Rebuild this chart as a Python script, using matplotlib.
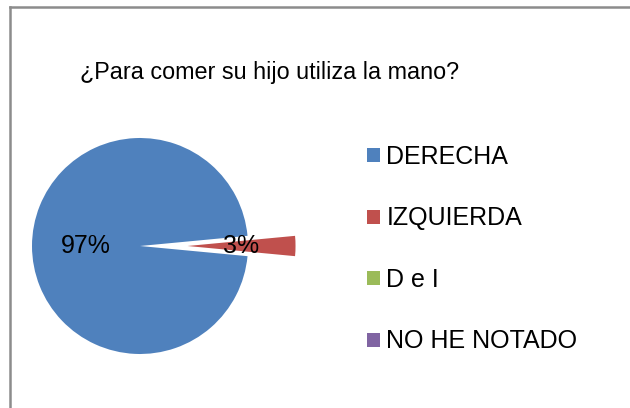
import matplotlib
matplotlib.use("Agg")
import matplotlib.pyplot as plt
from matplotlib.patches import Patch
from matplotlib.lines import Line2D

plt.rcParams['font.family'] = ['Liberation Sans', 'DejaVu Sans']

title = "¿Para comer su hijo utiliza la mano?"
categories = ["DERECHA", "IZQUIERDA", "D e I", "NO HE NOTADO"]
values = [97, 3, 0, 0]
colors = ["#4F81BD", "#C0504D", "#9BBB59", "#8064A2"]
explode = [0, 0.44, 0, 0]

W, H = 630, 408
fig = plt.figure(figsize=(W / 100, H / 100), dpi=100)

# chart frame (only left and top edges are visible in the crop)
fig.add_artist(Line2D([10 / W, 10 / W], [0, 1 - 6.5 / H], color="#8c8c8c", lw=1.8))
fig.add_artist(Line2D([10 / W, 1], [1 - 6.5 / H, 1 - 6.5 / H], color="#8c8c8c", lw=1.8))

# pie axes: centre at (140, 246) px, radius 108 px
R = 108
cx, cy = 140, 246
x0, x1, y0, y1 = -1.1, 1.7, -1.1, 1.1
ax = fig.add_axes([(cx + x0 * R) / W, (H - cy + y0 * R) / H,
                   (x1 - x0) * R / W, (y1 - y0) * R / H])

wedges, texts, autotexts = ax.pie(
    values, colors=colors, explode=explode, startangle=5.4,
    counterclock=True, pctdistance=0.5,
    autopct=lambda p: f"{p:.0f}%" if p > 0.5 else "",
    textprops=dict(fontsize=18, color="black"),
    wedgeprops=dict(linewidth=0))
ax.set_xlim(x0, x1)
ax.set_ylim(y0, y1)
ax.set_aspect("auto")

fig.text(270 / W, 1 - 72 / H, title, fontsize=16.8, ha="center", va="center")

handles = [Patch(facecolor=c, edgecolor="none") for c in colors]
fig.legend(handles, categories, loc="upper left",
           bbox_to_anchor=(367 / W, 1 - 145 / H), frameon=False,
           fontsize=18, handlelength=0.5, handleheight=0.5,
           handletextpad=0.28, labelspacing=1.5, borderpad=0,
           borderaxespad=0)

fig.savefig("out.png", dpi=100, facecolor="white")
